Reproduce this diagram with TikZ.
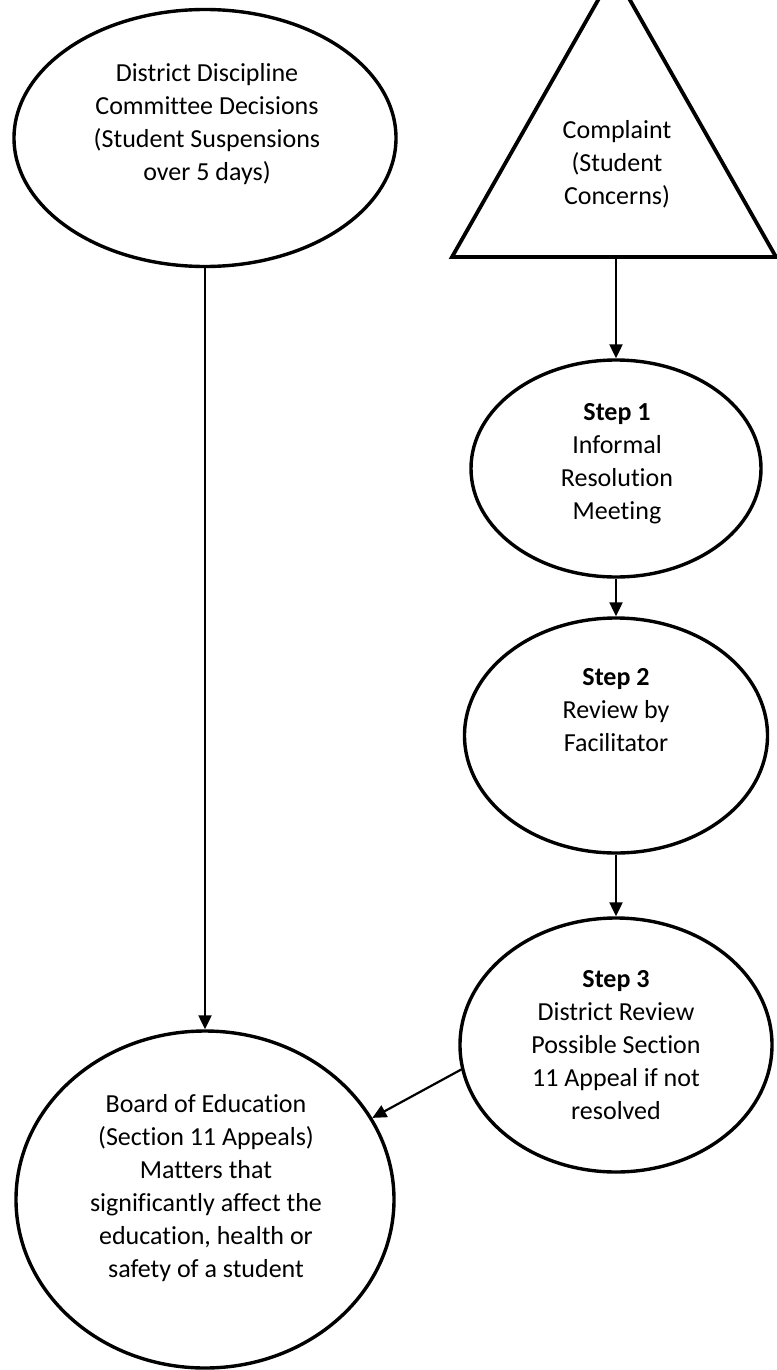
\documentclass[tikz,border=0pt]{standalone}
\usepackage{fontspec}
\setmainfont{Carlito}[Ligatures={NoCommon,NoContextual}]
\usetikzlibrary{shapes.geometric,arrows.meta}
\begin{document}
\begin{tikzpicture}[x=1pt,y=-1pt,
  oval/.style={draw, ellipse, line width=3.4pt, inner sep=0pt},
  txt/.style={align=center, font=\fontsize{26}{33}\selectfont, inner sep=0pt},
  arr/.style={line width=2.2pt, -{Triangle[length=14pt,width=13pt]}}]
\useasboundingbox (0,0) rectangle (776,1370);
% left column
\node[oval, minimum width=382pt, minimum height=257pt] (e1) at (205,138) {};
\node[txt] (e1t) at (207,124) {District Discipline\\Committee Decisions\\(Student Suspensions\\over 5 days)};
\node[oval, minimum width=378pt, minimum height=337pt] (board) at (205,1199.5) {};
\node[txt] (boardt) at (206,1188) {Board of Education\\(Section 11 Appeals)\\Matters that\\significantly affect the\\education, health or\\safety of a student};
% triangle
\draw[line width=3.8pt] (452,257) -- (614,-28) -- (776,257) -- cycle;
\coordinate (tb) at (616,257);
\node[txt] (ct) at (617,164) {Complaint\\(Student\\Concerns)};
% steps
\node[oval, minimum width=290pt, minimum height=217pt] (s1) at (616,468.5) {};
\node[txt] (s1t) at (617,464) {\textbf{Step 1}\\Informal\\Resolution\\Meeting};
\node[oval, minimum width=303pt, minimum height=235pt] (s2) at (616,735.5) {};
\node[txt] (s2t) at (616,710) {\textbf{Step 2}\\Review by\\Facilitator};
\node[oval, minimum width=312pt, minimum height=254pt] (s3) at (616,1045) {};
\node[txt] (s3t) at (616,1045) {\textbf{Step 3}\\District Review\\Possible Section\\11 Appeal if not\\resolved};
% connectors
\draw[arr] (tb) -- (s1.north);
\draw[arr] (s1.south) -- (s2.north);
\draw[arr] (s2.south) -- (s3.north);
\draw[arr] (e1.south) -- (board.north);
\draw[arr] (s3.189) -- (board.26);
\end{tikzpicture}
\end{document}
